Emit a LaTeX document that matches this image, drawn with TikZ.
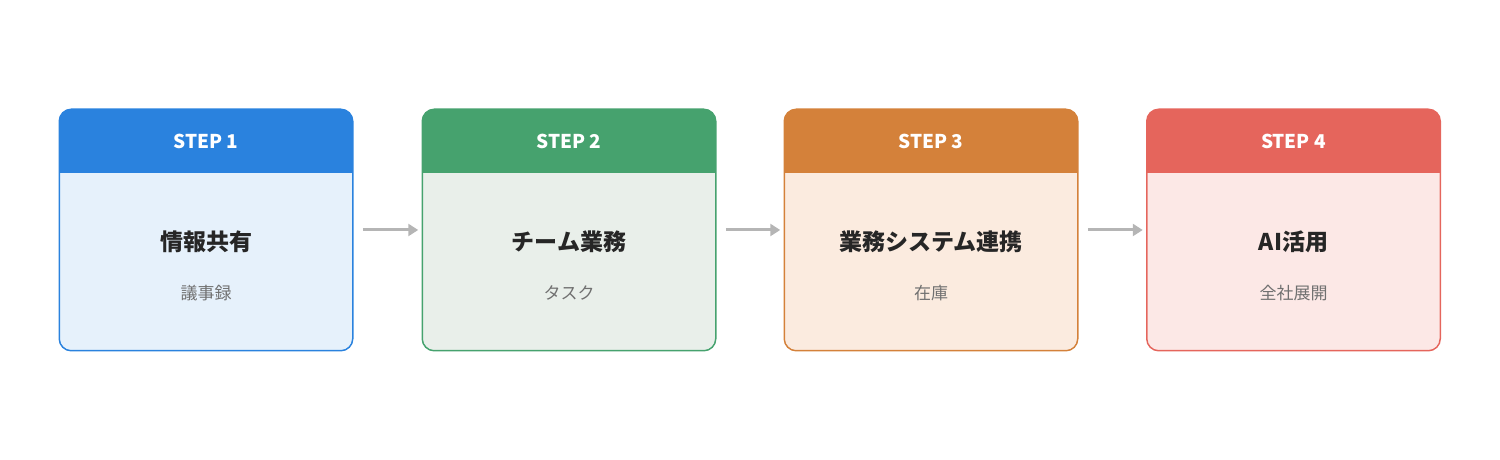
\documentclass[tikz,border=0pt]{standalone}
\usepackage{fontspec}
\setmainfont{Noto Sans CJK JP}
\usetikzlibrary{arrows.meta, positioning}
\definecolor{blueH}{HTML}{2A82DE}\definecolor{blueF}{HTML}{E6F1FB}
\definecolor{greenH}{HTML}{46A26E}\definecolor{greenF}{HTML}{E9EFEA}
\definecolor{orangeH}{HTML}{D4813A}\definecolor{orangeF}{HTML}{FBEBDF}
\definecolor{redH}{HTML}{E5655C}\definecolor{redF}{HTML}{FCE8E6}
\definecolor{subgray}{HTML}{707070}
\definecolor{arrgray}{HTML}{B5B5B5}
\tikzstyle{card} = [rectangle, rounded corners=12pt, minimum width=292pt, minimum height=240pt, line width=1.5pt, inner sep=0pt]
\tikzstyle{head} = [font=\fontsize{19}{22}\selectfont\bfseries, text=white]
\tikzstyle{title} = [font=\fontsize{23}{27}\selectfont\bfseries, text=black!85]
\tikzstyle{sub} = [font=\fontsize{17}{20}\selectfont, text=subgray]
\tikzstyle{path} = [-{Triangle[length=10pt,width=12pt]}, line width=3pt, arrgray]

\begin{document}
\begin{tikzpicture}[x=1pt, y=1pt]
    \useasboundingbox (0,0) rectangle (1500,460);
    \foreach \i/\cx/\col/\ttl/\sbt in {1/206/blue/情報共有/議事録 / Wiki, 2/569/green/チーム業務/タスク / 案件, 3/931/orange/業務システム連携/在庫 / 売上, 4/1293.5/red/AI活用/全社展開} {
        \node (card\i) [card, fill=\col F] at (\cx,230) {};
        \begin{scope}
            \clip[rounded corners=12pt] (card\i.south west) rectangle (card\i.north east);
            \fill[\col H] (card\i.north west) rectangle ([yshift=-64pt]card\i.north east);
        \end{scope}
        \draw[\col H, line width=1.5pt, rounded corners=12pt] (card\i.south west) rectangle (card\i.north east);
        \node (head\i) [head] at ([yshift=-32pt]card\i.north) {STEP \i};
        \node (title\i) [title] at (\cx,218) {\ttl};
        \node (sub\i) [sub] at (\cx,167) {\sbt};
    }

    % Arrows.
    \foreach \a/\b in {1/2, 2/3, 3/4}
        \draw [path] ([xshift=10pt,yshift=0pt]card\a.east |- 0,230) -- ([xshift=-4pt]card\b.west |- 0,230);
\end{tikzpicture}
\end{document}
